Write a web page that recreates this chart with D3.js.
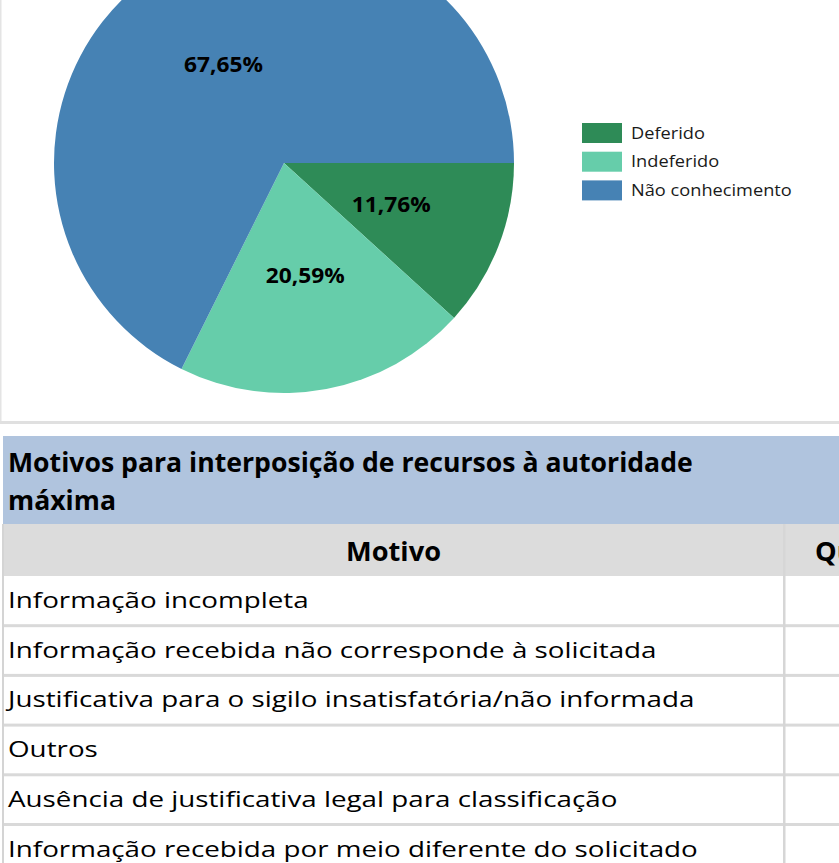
<!DOCTYPE html>
<html>
<head>
<meta charset="utf-8">
<script src="https://cdn.jsdelivr.net/npm/d3@7"></script>
<style>
  html, body { margin: 0; padding: 0; background: #ffffff; overflow: hidden; }
  svg { display: block; }
  text { font-family: 'Open Sans', 'Noto Sans', sans-serif; }
</style>
</head>
<body>
<script>
// ---------- data ----------
const categories = ["Deferido", "Indeferido", "Não conhecimento"];
const shares = [11.76, 20.59, 67.65];
const sliceColors = ["#2e8b57", "#66cdaa", "#4682b4"];

const tableTitle = ["Motivos para interposição de recursos à autoridade", "máxima"];
const columns = ["Motivo", "Quantidade"];
const motivos = [
  "Informação incompleta",
  "Informação recebida não corresponde à solicitada",
  "Justificativa para o sigilo insatisfatória/não informada",
  "Outros",
  "Ausência de justificativa legal para classificação",
  "Informação recebida por meio diferente do solicitado"
];

// ---------- setup ----------
const W = 839, H = 863;
const svg = d3.select("body").append("svg").attr("width", W).attr("height", H);

const ptBR = d3.formatLocale({ decimal: ",", thousands: ".", grouping: [3], currency: ["R$", ""] });
const fmt = v => ptBR.format(".2f")(v) + "%";

function measure(str, size, weight) {
  const t = svg.append("text").attr("font-size", size).attr("font-weight", weight).text(str);
  const w = t.node().getComputedTextLength();
  t.remove();
  return w;
}
// horizontal compression to mimic the narrow original typeface
function squeeze(str, size, weight, target) { return target / measure(str, size, weight); }

// ---------- chart frame ----------
svg.append("rect").attr("x", 0).attr("y", 0).attr("width", 1.5).attr("height", 422).attr("fill", "#e4e4e4");
svg.append("rect").attr("x", 0).attr("y", 421).attr("width", W).attr("height", 3).attr("fill", "#e0e0e0");

// ---------- pie ----------
const cx = 284, cy = 163, R = 230;
const pie = d3.pie().sort(null).value(d => d).startAngle(Math.PI / 2).endAngle(Math.PI / 2 + 2 * Math.PI);
const arcs = pie(shares);
const arc = d3.arc().innerRadius(0).outerRadius(R);
const color = d3.scaleOrdinal().domain(categories).range(sliceColors);

const gPie = svg.append("g").attr("transform", `translate(${cx},${cy})`);
gPie.selectAll("path").data(arcs).join("path")
  .attr("d", arc)
  .attr("fill", (d, i) => color(categories[i]));

const labSize = 22, labSx = squeeze("67,65%", labSize, 700, 79);
gPie.selectAll("text.lab").data(arcs).join("text")
  .attr("class", "lab")
  .attr("transform", d => { const c = arc.centroid(d); return `translate(${c[0]},${c[1] + 7}) scale(${labSx},1)`; })
  .attr("text-anchor", "middle")
  .attr("font-size", labSize).attr("font-weight", 700).attr("fill", "#000")
  .text(d => fmt(d.data));

// ---------- legend ----------
const legSize = 17, legSx = squeeze("Não conhecimento", legSize, 400, 161);
const legY = d3.scaleLinear().domain([0, 1]).range([123, 151.7]);
const gLeg = svg.append("g");
const li = gLeg.selectAll("g").data(categories).join("g")
  .attr("transform", (d, i) => `translate(582,${legY(i)})`);
li.append("rect").attr("width", 40).attr("height", 20).attr("fill", d => color(d));
li.append("text").attr("transform", `translate(49,15.5) scale(${legSx},1)`)
  .attr("font-size", legSize).attr("fill", "#1a1a1a").text(d => d);

// ---------- table ----------
const tx = 3;
svg.append("rect").attr("x", tx).attr("y", 436).attr("width", W - tx).attr("height", 88).attr("fill", "#b0c4de");
svg.append("rect").attr("x", tx).attr("y", 524).attr("width", W - tx).attr("height", 52).attr("fill", "#dcdcdc");

const titleSize = 27.5, titleSx = squeeze(tableTitle[0], titleSize, 700, 685);
svg.selectAll("text.title").data(tableTitle).join("text").attr("class", "title")
  .attr("transform", (d, i) => `translate(8,${472 + i * 37.5}) scale(${titleSx},1)`)
  .attr("font-size", titleSize).attr("font-weight", 700).attr("fill", "#000").text(d => d);

const rowY = d3.scaleLinear().domain([0, 1]).range([576, 625.7]);

// separators
svg.selectAll("rect.sep").data(motivos).join("rect").attr("class", "sep")
  .attr("x", tx).attr("y", (d, i) => rowY(i + 1) - 1.5).attr("width", W - tx).attr("height", 3)
  .attr("fill", "#d9d9d9");
// left border and column divider
svg.append("rect").attr("x", 2).attr("y", 524).attr("width", 2).attr("height", H - 524).attr("fill", "#d4d4d4");
svg.append("rect").attr("x", 783).attr("y", 524).attr("width", 2.5).attr("height", H - 524).attr("fill", "#d6d6d6");

// header texts
const hdSize = 27, hdSx = squeeze("Motivo", hdSize, 700, 95);
const colX = [393.5, 815];
svg.selectAll("text.hd").data(columns).join("text").attr("class", "hd")
  .attr("transform", (d, i) => `translate(${colX[i]},561) scale(${hdSx},1)`)
  .attr("text-anchor", (d, i) => i === 0 ? "middle" : "start")
  .attr("font-size", hdSize).attr("font-weight", 700).attr("fill", "#000").text(d => d);

// row texts
const rowSize = 22.5, rowSx = squeeze(motivos[1], rowSize, 400, 649);
svg.selectAll("text.row").data(motivos).join("text").attr("class", "row")
  .attr("transform", (d, i) => `translate(8,${rowY(i) + 32}) scale(${rowSx},1)`)
  .attr("font-size", rowSize).attr("fill", "#000").text(d => d);
</script>
</body>
</html>
